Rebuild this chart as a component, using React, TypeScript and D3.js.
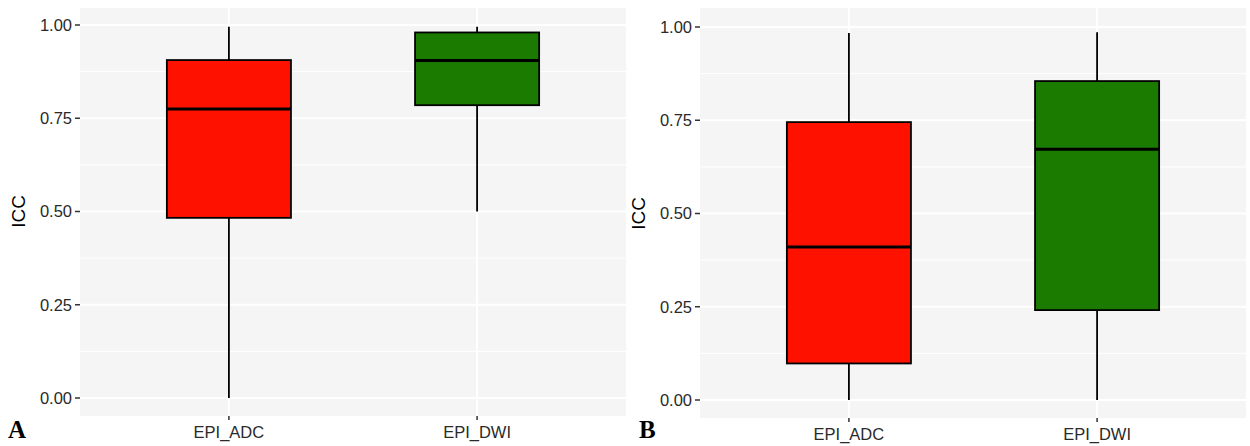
import React from "react";
import * as d3 from "d3";

// Box summaries: [whiskerLow, q1, median, q3, whiskerHigh]
const CATEGORIES = ["EPI_ADC", "EPI_DWI"];
const COLORS = ["#ff1100", "#1b7a00"];
const PANEL_A = [
  [0.0, 0.483, 0.775, 0.906, 0.995],
  [0.5, 0.785, 0.905, 0.98, 0.995],
];
const PANEL_B = [
  [0.0, 0.098, 0.41, 0.745, 0.984],
  [0.0, 0.241, 0.672, 0.855, 0.986],
];
const Y_TICKS = [0, 0.25, 0.5, 0.75, 1.0];
const Y_MINOR = [0.125, 0.375, 0.625, 0.875];

interface PanelProps {
  left: number; // plot area x
  top: number;
  bottom: number;
  width: number;
  stats: number[][];
  letter: string;
  letterX: number;
  labelX: number;
}

function Panel({ left, top, bottom, width, stats, letter, letterX, labelX }: PanelProps) {
  // ggplot-like discrete axis: 0.6 expansion each side
  const x = d3.scaleLinear().domain([0.4, 2.6]).range([left, left + width]);
  const zeroY = bottom - 18;
  const y = d3.scaleLinear().domain([0, 1]).range([zeroY, zeroY - 373]);
  const boxW = x(1.5) - x(1);
  const font = "Liberation Sans, Arial, sans-serif";

  return (
    <g>
      <rect x={left} y={top} width={width} height={bottom - top} fill="#f5f5f5" />
      {Y_MINOR.map((v) => (
        <line key={"m" + v} x1={left} x2={left + width} y1={y(v)} y2={y(v)} stroke="#fff" strokeWidth={1} />
      ))}
      {Y_TICKS.map((v) => (
        <line key={"g" + v} x1={left} x2={left + width} y1={y(v)} y2={y(v)} stroke="#fff" strokeWidth={2} />
      ))}
      {CATEGORIES.map((c, i) => (
        <line key={"v" + c} x1={x(i + 1)} x2={x(i + 1)} y1={top} y2={bottom} stroke="#fff" strokeWidth={2} />
      ))}

      {stats.map((s, i) => {
        const cx = x(i + 1);
        const [lo, q1, med, q3, hi] = s;
        return (
          <g key={i}>
            <line x1={cx} x2={cx} y1={y(hi)} y2={y(q3)} stroke="#000" strokeWidth={1.8} />
            <line x1={cx} x2={cx} y1={y(q1)} y2={y(lo)} stroke="#000" strokeWidth={1.8} />
            <rect
              x={cx - boxW / 2}
              y={y(q3)}
              width={boxW}
              height={y(q1) - y(q3)}
              fill={COLORS[i]}
              stroke="#000"
              strokeWidth={1.8}
            />
            <line x1={cx - boxW / 2} x2={cx + boxW / 2} y1={y(med)} y2={y(med)} stroke="#000" strokeWidth={3} />
          </g>
        );
      })}

      {Y_TICKS.map((v) => (
        <g key={"t" + v}>
          <line x1={left - 5} x2={left} y1={y(v)} y2={y(v)} stroke="#333" strokeWidth={1.5} />
          <text x={left - 8} y={y(v)} dy="0.36em" textAnchor="end" fontSize={16.5} fontFamily={font} fill="#2a2a2a">
            {v.toFixed(2)}
          </text>
        </g>
      ))}
      {CATEGORIES.map((c, i) => (
        <g key={"x" + c}>
          <line x1={x(i + 1)} x2={x(i + 1)} y1={bottom} y2={bottom + 4} stroke="#333" strokeWidth={1.5} />
          <text x={x(i + 1)} y={bottom + 22} textAnchor="middle" fontSize={16.5} fontFamily={font} fill="#2a2a2a">
            {c}
          </text>
        </g>
      ))}
      <text
        transform={`translate(${labelX},${y(0.5)}) rotate(-90)`}
        textAnchor="middle"
        fontSize={19}
        fontFamily={font}
        fill="#000"
      >
        ICC
      </text>
      <text x={letterX} y={438} fontSize={25} fontWeight={700} fontFamily="Liberation Serif, Times New Roman, serif">
        {letter}
      </text>
    </g>
  );
}

export default function App() {
  return (
    <svg width={1250} height={446} style={{ position: "absolute", left: 0, top: 0, background: "#fff" }}>
      <Panel left={80} top={8} bottom={416} width={546} stats={PANEL_A} letter="A" letterX={8} labelX={25} />
      <Panel left={700} top={8} bottom={418} width={546} stats={PANEL_B} letter="B" letterX={639} labelX={645} />
    </svg>
  );
}
